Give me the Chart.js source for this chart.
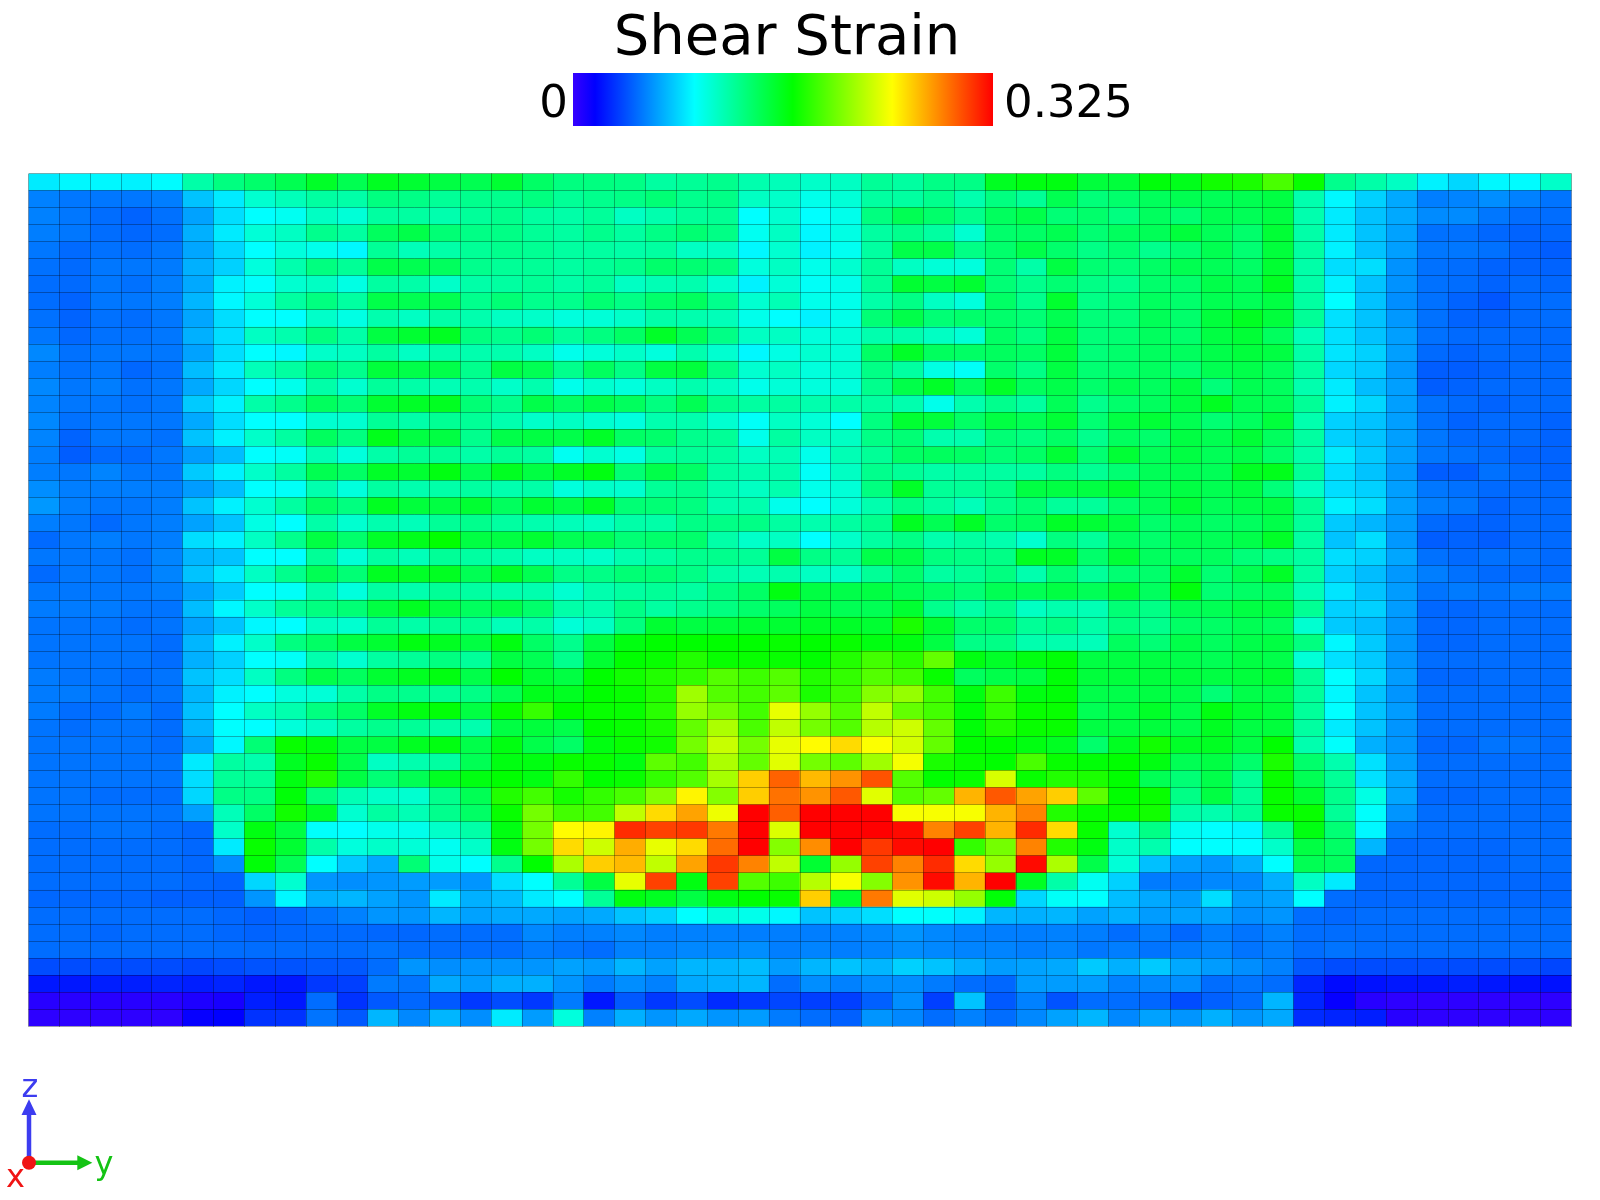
<!DOCTYPE html>
<html>
<head>
<meta charset="utf-8">
<title>Shear Strain</title>
<script src="https://cdn.jsdelivr.net/npm/chart.js@4"></script>
<style>
    body { margin: 0; background: #fff; font-family: "DejaVu Sans", sans-serif; color: #000; }
    #stage { position: relative; width: 1600px; height: 1200px; overflow: hidden; }
    #stage canvas { position: absolute; left: 0; top: 0; }
    .label { position: absolute; white-space: nowrap; line-height: 1; }
    #title { left: 487px; width: 600px; top: 7px; text-align: center; font-size: 56px; }
    #bar-min { right: 1032px; top: 79px; font-size: 45px; }
    #bar-max { left: 1004px; top: 79px; font-size: 45px; }
    #colorbar { position: absolute; left: 573px; top: 73px; width: 420px; height: 53px; }
    #triad { position: absolute; left: 0; top: 1070px; }
</style>
</head>
<body>
<div id="stage">
    <canvas id="strain-chart" width="1600" height="1200"></canvas>
    <div class="label" id="title"></div>
    <div class="label" id="bar-min"></div>
    <div id="colorbar"></div>
    <div class="label" id="bar-max"></div>
    <svg id="triad" width="140" height="130">
        <line x1="29" y1="92.7" x2="29" y2="42" stroke="#3c3cf0" stroke-width="4.5"/>
        <polygon points="29,29.3 21.5,45 36.5,45" fill="#3c3cf0"/>
        <line x1="29" y1="92.7" x2="80" y2="92.7" stroke="#14c314" stroke-width="4.5"/>
        <polygon points="92.3,92.7 77.3,85.2 77.3,100.2" fill="#14c314"/>
        <circle cx="29" cy="92.7" r="7" fill="#f01414"/>
        <text x="30" y="27" text-anchor="middle" font-size="32" fill="#3c3cf0">z</text>
        <text x="104" y="104" text-anchor="middle" font-size="32" fill="#14c314">y</text>
        <text x="15.5" y="117" text-anchor="middle" font-size="32" fill="#f01414">x</text>
    </svg>
</div>
<script>
const titleText = 'Shear Strain';
const barTicks = ['0', '0.325'];
const strainMax = 325; // thousandths of strain, top of the colour bar

// colour stops: thousandths of strain -> rgb
const stopValues = [0, 17, 94, 170, 247, 325];
const stopColors = [[55, 0, 255], [0, 0, 255], [0, 255, 255], [0, 255, 0], [255, 255, 0], [255, 0, 0]];

// shear strain per cell in thousandths, first row is the top of the mesh
const strainRows = [
    [88,92,92,90,93,120,132,138,146,158,146,160,155,150,146,155,140,132,132,130,122,125,128,118,115,110,112,125,122,130,130,160,165,165,152,152,167,162,175,178,192,172,128,120,112,90,82,92,93,110],
    [56,53,53,53,55,76,88,108,115,122,120,132,130,125,128,128,132,125,128,130,135,128,130,112,110,100,106,122,122,128,118,132,125,146,134,138,143,146,144,146,150,118,92,80,68,55,57,60,56,52],
    [56,53,50,47,51,66,84,94,98,112,106,122,122,118,124,128,122,120,124,112,118,124,126,94,108,94,100,132,145,138,128,142,148,135,138,132,142,136,146,144,150,118,88,76,68,59,59,53,50,50],
    [55,53,50,48,50,70,88,106,112,128,122,142,148,135,130,130,125,122,128,122,130,136,130,98,112,92,102,122,128,122,108,138,140,146,136,142,144,152,144,138,154,120,88,76,66,51,51,48,47,48],
    [53,49,51,50,53,67,82,94,104,100,92,125,115,120,125,128,126,122,122,120,122,112,112,92,108,90,98,122,148,148,130,138,148,138,130,136,128,136,146,136,152,122,90,76,65,53,53,51,47,45],
    [51,49,53,53,54,70,80,104,118,132,125,148,146,142,128,125,125,122,125,128,138,136,132,104,112,100,108,125,112,106,104,135,120,150,136,134,140,146,144,140,155,120,84,84,61,51,50,47,47,47],
    [50,49,53,51,55,68,90,95,108,112,102,122,120,110,120,122,125,120,124,112,116,118,108,90,106,96,100,125,155,150,155,135,128,136,130,128,138,138,148,144,160,120,90,76,61,51,50,47,49,48],
    [50,47,53,53,55,72,92,106,122,132,122,148,146,146,128,135,128,128,136,130,138,142,128,108,116,100,100,120,130,112,104,140,128,156,130,134,142,138,146,144,150,122,94,76,60,51,47,43,49,50],
    [51,47,51,50,53,67,84,94,94,110,102,118,112,120,118,112,110,104,106,110,120,118,115,100,94,90,100,135,148,135,138,138,135,146,134,134,144,138,152,160,152,125,85,76,63,51,47,47,49,50],
    [53,48,51,51,53,70,84,112,118,132,120,150,155,160,132,128,135,124,132,140,158,145,130,112,112,104,106,118,118,112,106,140,132,150,134,136,142,138,150,154,142,115,85,76,65,51,49,49,49,49],
    [58,51,53,53,53,66,84,94,92,110,112,122,112,118,118,118,112,100,105,110,104,118,108,92,102,108,106,140,158,142,140,142,140,152,134,138,142,142,148,152,150,120,86,80,65,49,47,49,49,49],
    [55,51,53,48,51,74,88,115,122,135,128,152,148,148,128,150,145,128,142,130,150,152,130,108,112,104,108,130,122,102,96,138,130,150,136,138,142,136,146,148,142,122,82,78,63,45,45,47,49,49],
    [58,53,55,51,53,68,82,94,100,120,108,124,120,116,118,110,118,100,108,104,112,118,112,100,106,104,104,128,148,158,142,158,142,148,138,146,142,150,134,146,142,118,88,74,65,45,47,49,49,49],
    [57,53,53,51,53,78,90,120,128,142,135,155,158,160,135,128,148,140,148,142,132,145,128,122,122,118,120,122,118,100,118,128,122,144,128,138,142,150,160,146,144,125,90,82,65,51,49,47,49,49],
    [58,51,53,53,53,68,84,94,94,108,108,125,120,126,125,118,110,112,108,104,118,118,108,96,112,106,94,132,155,152,140,150,145,154,136,150,154,146,136,142,152,118,80,76,65,51,47,49,49,47],
    [57,47,53,53,51,76,90,110,122,142,132,162,150,150,128,148,150,148,158,140,138,128,125,100,122,112,112,130,135,118,118,135,132,140,128,142,138,150,146,154,142,122,80,76,65,53,49,49,49,47],
    [55,45,49,49,53,64,74,94,96,116,104,120,125,125,120,125,122,98,108,102,122,125,122,112,116,100,116,125,140,142,140,135,140,154,136,154,144,150,144,148,138,120,88,78,65,53,51,49,47,47],
    [55,53,57,53,53,78,90,110,122,146,140,158,155,165,145,160,150,158,165,135,148,140,122,118,118,96,112,128,125,120,122,122,122,132,126,136,144,146,144,160,162,125,84,76,63,45,45,51,49,47],
    [60,55,55,55,55,64,74,94,96,118,104,122,118,120,122,118,120,104,110,108,125,128,118,112,118,100,106,132,158,125,125,130,150,150,150,156,146,150,146,150,134,112,84,80,65,53,51,49,49,49],
    [63,55,53,53,55,76,90,108,122,140,132,160,152,150,155,142,155,148,158,135,135,132,118,118,100,94,105,118,130,122,115,128,135,124,124,138,144,154,144,148,150,125,90,84,65,55,53,47,49,49],
    [55,53,49,53,55,66,76,102,94,120,108,118,115,125,128,122,118,115,112,120,120,130,130,130,122,118,122,128,160,145,158,138,142,158,154,150,138,144,140,142,148,124,78,72,63,49,47,47,49,49],
    [49,53,55,53,55,84,90,112,128,150,138,158,162,170,150,150,155,145,145,135,138,138,120,110,112,94,110,122,130,118,122,118,108,132,124,142,138,146,144,148,158,122,76,84,63,45,47,45,49,49],
    [53,53,53,51,57,72,76,94,94,125,106,122,115,125,122,118,112,112,110,118,122,128,128,125,150,130,125,148,148,132,130,130,160,158,138,154,142,142,142,134,130,122,84,80,67,51,49,51,51,49],
    [49,53,53,51,57,76,88,112,128,145,135,160,158,160,145,158,146,130,130,135,135,130,120,116,118,112,110,125,138,122,125,132,118,136,124,136,138,156,136,146,158,122,80,74,63,55,51,49,49,49],
    [53,53,53,53,55,66,78,94,96,118,104,122,118,125,122,118,118,108,118,122,125,122,132,140,165,150,148,150,145,140,135,145,145,150,144,154,142,166,136,140,142,116,86,76,64,52,54,52,54,54],
    [54,54,54,52,52,74,92,110,125,132,135,150,160,150,142,148,138,120,118,130,122,128,132,138,142,150,145,145,155,128,120,128,112,118,116,135,130,145,145,150,150,126,80,80,64,48,48,50,50,50],
    [52,52,52,50,52,66,76,92,94,112,108,125,120,125,125,115,120,106,112,132,155,150,152,155,155,158,158,155,178,155,138,138,125,130,120,132,128,140,140,145,142,108,78,74,62,48,48,50,50,50],
    [52,52,52,52,50,72,90,110,132,140,150,155,165,160,150,165,140,128,150,165,170,170,170,170,172,170,172,165,165,150,130,130,118,118,115,142,135,148,142,148,150,132,92,78,62,48,48,50,50,50],
    [52,52,52,52,50,70,80,94,96,118,108,122,125,132,124,150,145,128,155,170,172,180,172,172,172,170,180,190,182,200,165,158,165,168,150,150,150,148,145,150,148,106,85,78,62,50,50,50,50,50],
    [54,52,52,50,52,76,84,112,132,148,142,155,160,165,148,170,155,150,170,175,180,185,195,188,195,180,185,195,190,172,142,148,150,168,152,152,152,152,150,152,155,125,94,82,64,48,48,50,50,50],
    [54,54,52,50,52,72,90,94,104,106,120,130,128,125,130,145,162,160,170,172,180,218,195,190,198,178,188,210,215,190,165,188,165,168,148,148,150,148,135,148,148,124,92,76,62,50,50,50,50,50],
    [54,50,50,54,50,75,94,112,118,132,140,158,165,168,150,172,186,170,172,172,182,215,205,190,240,215,195,228,200,190,168,185,172,172,145,150,158,148,165,155,152,124,94,76,64,50,50,50,50,50],
    [52,50,52,52,50,72,94,94,105,112,122,128,125,120,118,150,152,148,170,172,178,200,222,192,228,205,195,225,232,200,168,180,172,172,150,150,152,148,160,150,152,122,88,76,62,50,50,50,50,50],
    [52,52,52,52,50,66,92,135,172,165,150,150,160,165,148,165,148,140,165,172,175,205,230,205,240,248,258,246,234,200,170,170,165,160,138,160,175,158,160,150,170,118,95,70,62,48,48,52,52,50],
    [52,52,52,52,52,88,122,118,160,172,148,112,118,122,145,165,165,172,172,165,198,190,222,200,238,205,198,218,244,178,172,170,192,172,168,170,165,145,150,138,178,138,118,85,64,50,50,50,50,50],
    [52,52,52,52,52,84,125,125,165,180,150,135,145,160,165,170,165,185,170,172,185,195,220,262,295,268,280,300,195,170,172,235,172,180,178,170,145,135,148,125,172,145,125,85,68,50,50,50,50,50],
    [52,52,50,50,50,82,130,130,168,132,116,110,108,128,145,180,190,176,185,192,210,250,210,262,290,280,298,238,195,200,270,298,275,262,198,170,172,130,150,125,172,155,128,102,67,48,48,50,50,50],
    [52,52,52,52,52,65,115,140,175,158,108,122,116,128,140,172,205,190,190,228,258,275,242,325,296,325,325,325,245,245,245,270,285,180,172,172,175,120,118,125,172,172,125,95,62,50,50,50,50,50],
    [50,50,52,52,50,48,110,165,150,95,94,100,100,110,120,165,205,248,250,312,305,308,288,325,236,325,325,325,322,285,305,270,312,258,172,108,130,98,94,92,125,165,135,92,54,50,50,50,50,50],
    [50,50,50,50,50,48,88,172,155,120,104,110,106,98,110,165,205,258,232,272,240,258,292,325,210,282,325,308,322,325,185,205,285,180,165,110,118,94,94,94,110,150,140,72,48,48,48,48,50,50],
    [50,50,50,50,50,48,60,168,145,94,78,68,135,100,94,128,170,222,262,268,228,275,308,285,228,155,215,305,285,312,258,215,322,222,148,106,75,65,62,70,94,145,142,48,48,48,48,48,50,50],
    [50,50,50,50,50,48,47,82,108,62,60,62,64,64,62,84,94,125,150,240,305,165,305,195,188,225,245,210,280,322,270,325,160,120,98,80,54,55,58,58,70,112,88,48,48,48,48,48,48,48],
    [48,48,48,48,46,46,46,62,92,70,72,66,62,88,70,74,88,94,125,165,160,150,165,170,172,262,155,288,238,232,215,168,82,96,94,74,68,64,84,64,66,94,50,48,48,48,48,48,48,48],
    [50,50,50,50,50,50,48,46,48,52,56,62,62,72,66,68,68,66,68,76,80,94,104,100,92,76,80,84,94,95,90,72,70,72,66,70,64,66,66,60,62,50,48,50,50,50,50,50,50,50],
    [50,50,48,50,50,50,48,47,48,49,49,48,48,50,50,50,58,55,56,58,55,56,56,55,55,55,56,58,62,58,56,55,55,56,55,50,55,48,55,52,56,50,50,50,50,50,50,50,50,50],
    [50,50,50,50,50,50,50,50,50,50,50,52,50,50,50,50,54,52,50,56,56,58,58,60,55,57,55,57,60,58,57,57,55,57,53,55,52,54,57,52,55,50,52,50,50,50,50,50,50,50],
    [40,40,40,40,40,38,40,42,42,44,44,50,62,60,62,62,62,66,64,72,66,72,72,74,64,72,76,72,80,76,70,64,66,68,78,70,78,68,64,60,56,44,40,40,40,40,40,40,40,38],
    [24,24,26,26,28,26,28,24,24,34,36,54,52,68,64,70,70,62,54,60,56,68,70,72,50,60,56,60,60,54,50,48,64,64,64,56,58,60,50,52,50,28,20,22,24,24,26,24,22,22],
    [5,5,5,5,5,8,10,26,24,50,32,44,48,44,34,40,34,54,24,44,34,40,30,34,38,36,36,46,60,36,76,44,56,42,50,50,48,40,46,50,72,28,15,5,3,3,3,3,3,3],
    [3,3,3,3,3,15,17,32,32,52,44,72,58,72,60,88,64,104,56,70,62,68,62,64,54,50,46,62,58,50,56,50,58,66,72,58,66,62,70,62,68,30,28,26,5,3,3,3,3,3]
];

function strainColor(value) {
    let i = 0;
    while (i < stopValues.length - 2 && value > stopValues[i + 1]) i++;
    const f = (value - stopValues[i]) / (stopValues[i + 1] - stopValues[i]);
    const rgb = stopColors[i].map((c, k) => Math.round(c + (stopColors[i + 1][k] - c) * f));
    return `rgb(${rgb[0]},${rgb[1]},${rgb[2]})`;
}

document.getElementById('title').textContent = titleText;
document.getElementById('bar-min').textContent = barTicks[0];
document.getElementById('bar-max').textContent = barTicks[1];
const gradientStops = stopValues.map((v, i) => `${strainColor(v)} ${v / strainMax * 100}%`);
document.getElementById('colorbar').style.background = `linear-gradient(to right, ${gradientStops.join(', ')})`;

// each mesh row is one stack level, lowest row first so the top row ends up on top
const columns = strainRows[0].map((_, i) => i + 1);
const datasets = strainRows.slice().reverse().map(row => ({
    data: row.map(() => 1),
    strain: row,
    backgroundColor: row.map(strainColor),
    borderWidth: 0,
    barPercentage: 1,
    categoryPercentage: 1
}));

const meshGrid = { color: 'rgba(0,0,0,0.3)', lineWidth: 1, drawTicks: false, z: 1 };

new Chart(document.getElementById('strain-chart'), {
    type: 'bar',
    data: { labels: columns, datasets: datasets },
    options: {
        responsive: false,
        animation: false,
        layout: { padding: { left: 28.5, right: 28.5, top: 173.5, bottom: 173.5 } },
        plugins: { legend: { display: false }, title: { display: false }, tooltip: { enabled: false } },
        scales: {
            x: { stacked: true, grid: meshGrid, ticks: { display: false }, border: { display: false } },
            y: {
                stacked: true,
                min: 0,
                max: strainRows.length,
                grid: meshGrid,
                ticks: { display: false, stepSize: 1 },
                border: { display: false }
            }
        }
    }
});
</script>
</body>
</html>
